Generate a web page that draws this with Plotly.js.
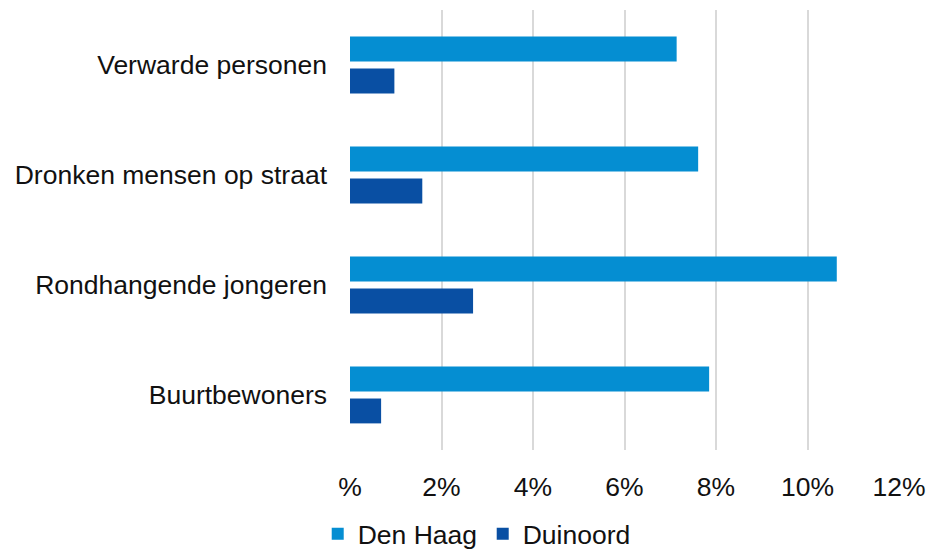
<!DOCTYPE html>
<html>
<head>
<meta charset="utf-8">
<script src="https://cdn.plot.ly/plotly-3.0.1.min.js"></script>
<style>html,body{margin:0;padding:0;background:#fff;}#chart{width:929px;height:551px;}</style>
</head>
<body>
<div id="chart"></div>
<script>
const categories = ["Verwarde personen", "Dronken mensen op straat", "Rondhangende jongeren", "Buurtbewoners"];
const denHaag = [7.14, 7.61, 10.64, 7.85];
const duinoord = [0.97, 1.58, 2.69, 0.68];
const tickValues = [0, 2, 4, 6, 8, 10, 12];
const tickLabels = ["%", "2%", "4%", "6%", "8%", "10%", "12%"];

const font = {family: "Liberation Sans, Arial, sans-serif", size: 26.5, color: "#111111"};

const data = [
  {type: "bar", orientation: "h", name: "Den Haag", y: categories, x: denHaag,
   marker: {color: "#058ED2"}, hoverinfo: "skip"},
  {type: "bar", orientation: "h", name: "Duinoord", y: categories, x: duinoord,
   marker: {color: "#094FA3"}, hoverinfo: "skip"}
];

const layout = {
  width: 929, height: 551,
  margin: {l: 350, r: 30, t: 10, b: 101, autoexpand: false},
  paper_bgcolor: "#fff", plot_bgcolor: "#fff",
  font: font,
  barmode: "group", bargap: 0.42, bargroupgap: 0.22,
  xaxis: {range: [0, 12], tickvals: tickValues, ticktext: tickLabels,
          showgrid: true, gridcolor: "#D9D9D9", gridwidth: 2, zeroline: false,
          showline: false, ticks: "", ticklabelstandoff: 18, tickfont: font, fixedrange: true},
  yaxis: {autorange: "reversed", showgrid: false, zeroline: false, showline: false,
          ticks: "", ticklabelstandoff: 22, tickfont: font, fixedrange: true},
  showlegend: true,
  legend: {orientation: "h", xref: "container", yref: "container",
           x: 0.342, xanchor: "left", y: 0.031, yanchor: "middle",
           font: font, entrywidth: 120, entrywidthmode: "pixels", traceorder: "normal"}
};

Plotly.newPlot("chart", data, layout, {displayModeBar: false, staticPlot: true});
</script>
</body>
</html>
